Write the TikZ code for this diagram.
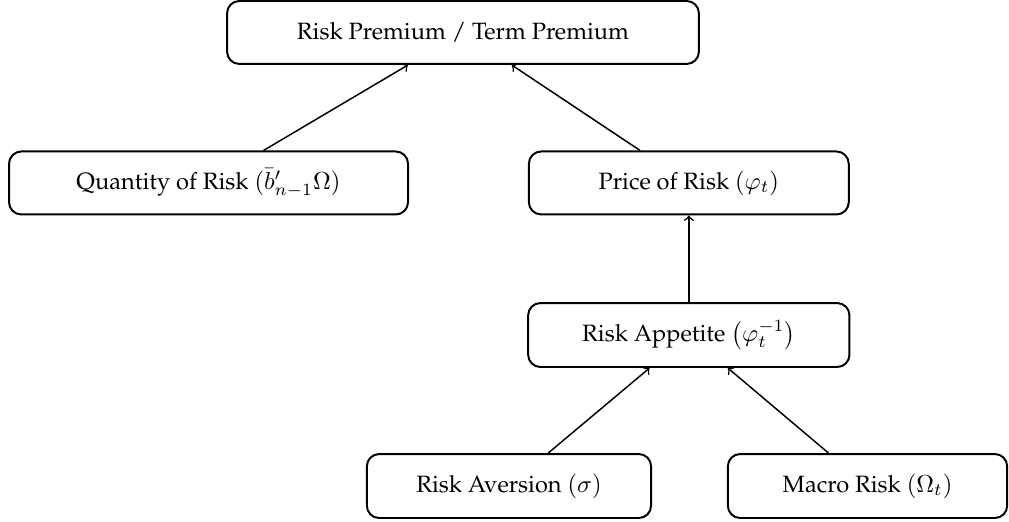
\documentclass[tikz,border=0pt]{standalone}
\usepackage[T1]{fontenc}
\usepackage{palatino}
\usepackage{amsmath,amssymb}

\tikzset{
  bloc/.style={draw, thick, rounded corners=5pt, minimum height=0.9cm, align=center,
    font=\fontsize{9.6}{11.5}\selectfont},
  fleche/.style={->, semithick}
}

\begin{document}
\begin{tikzpicture}

% Cadre de l'image
\useasboundingbox (0,0) rectangle (14.414,-7.443);

% Les blocs
\node[bloc, minimum width=6.74cm] (prime) at (6.614,-0.464) {Risk Premium / Term Premium};
\node[bloc, minimum width=5.70cm] (quantite) at (2.979,-2.614) {Quantity of Risk $(\bar{b}'_{n-1}\Omega)$};
\node[bloc, minimum width=4.57cm] (prix) at (9.84,-2.614) {Price of Risk $(\varphi_t)$};
\node[bloc, minimum width=4.59cm, minimum height=0.914cm] (appetit) at (9.84,-4.786) {Risk Appetite $\left(\varphi_t^{-1}\right)$};
\node[bloc, minimum width=4.06cm, minimum height=0.914cm] (aversion) at (7.271,-6.943) {Risk Aversion $(\sigma)$};
\node[bloc, minimum width=3.99cm, minimum height=0.914cm] (macro) at (12.393,-6.943) {Macro Risk $(\Omega_t)$};

% Les fleches
\draw[fleche] (quantite) -- (prime);
\draw[fleche] (prix) -- (prime);
\draw[fleche] (appetit) -- (prix);
\draw[fleche] (aversion) -- (appetit);
\draw[fleche] (macro) -- (appetit);

\end{tikzpicture}
\end{document}
